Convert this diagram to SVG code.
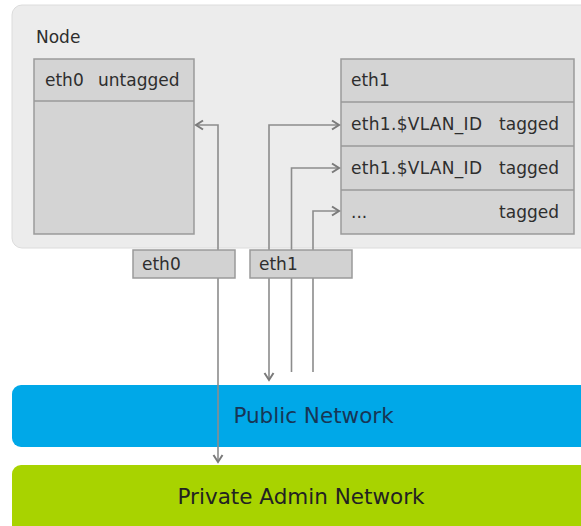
<svg xmlns="http://www.w3.org/2000/svg" width="581" height="526" viewBox="0 0 581 526">
  <style>
    text { font-family: "DejaVu Sans", "Liberation Sans", sans-serif; fill: #2e2e2e; }
    .lbl { font-size: 17px; }
    .box { fill: #d4d4d4; stroke: #9a9a9a; stroke-width: 1.5; }
    .div { stroke: #9a9a9a; stroke-width: 1.5; }
    .port { fill: #d2d2d2; stroke: #9a9a9a; stroke-width: 1.5; }
    .conn { fill: none; stroke: #8c8c8c; stroke-width: 1.6; }
    .net { font-size: 21.5px; }
  </style>
  <defs>
    <marker id="arr" markerUnits="userSpaceOnUse" markerWidth="12" markerHeight="12" refX="9" refY="6" orient="auto-start-reverse" viewBox="0 0 12 12">
      <path d="M2,1.5 L9,6 L2,10.5" fill="none" stroke="#7a7a7a" stroke-width="2"/>
    </marker>
  </defs>
  <rect x="0" y="0" width="581" height="526" fill="#ffffff"/>

  <g id="node">
    <rect x="12" y="5" width="600" height="243" rx="10" fill="#ececec" stroke="#dcdcdc" stroke-width="1"/>
    <text class="lbl" x="36" y="43">Node</text>
  </g>

  <g id="eth0-if">
    <rect class="box" x="34" y="59" width="160" height="175"/>
    <line class="div" x1="34" y1="101" x2="194" y2="101"/>
    <text class="lbl" x="45" y="86">eth0</text>
    <text class="lbl" x="98" y="86">untagged</text>
  </g>

  <g id="eth1-if">
    <rect class="box" x="341" y="59" width="233" height="175"/>
    <line class="div" x1="341" y1="102" x2="574" y2="102"/>
    <line class="div" x1="341" y1="146" x2="574" y2="146"/>
    <line class="div" x1="341" y1="190" x2="574" y2="190"/>
    <text class="lbl" x="351" y="86">eth1</text>
    <text class="lbl" x="351" y="130" textLength="131">eth1.$VLAN_ID</text>
    <text class="lbl" x="559" y="130" text-anchor="end">tagged</text>
    <text class="lbl" x="351" y="174" textLength="131">eth1.$VLAN_ID</text>
    <text class="lbl" x="559" y="174" text-anchor="end">tagged</text>
    <text class="lbl" x="351" y="218">...</text>
    <text class="lbl" x="559" y="218" text-anchor="end">tagged</text>
  </g>

  <g id="public-network">
    <rect x="12" y="385" width="600" height="62" rx="9" fill="#00a8e8"/>
    <text class="net" x="313.5" y="423" text-anchor="middle" style="fill:#173656">Public Network</text>
  </g>

  <g id="private-network">
    <rect x="12" y="465" width="600" height="80" rx="9" fill="#a8d300"/>
    <text class="net" x="301" y="504" text-anchor="middle" style="fill:#222222">Private Admin Network</text>
  </g>

  <g id="connectors">
    <path class="conn" d="M218,462 L218,125 L196,125" marker-start="url(#arr)" marker-end="url(#arr)"/>
    <path class="conn" d="M269,380 L269,125 L339,125" marker-start="url(#arr)" marker-end="url(#arr)"/>
    <path class="conn" d="M291.5,372 L291.5,168 L339,168" marker-end="url(#arr)"/>
    <path class="conn" d="M313,372 L313,211 L339,211" marker-end="url(#arr)"/>
  </g>

  <g id="port-eth0">
    <rect class="port" x="133" y="250" width="102" height="28"/>
    <text class="lbl" x="142" y="270">eth0</text>
  </g>

  <g id="port-eth1">
    <rect class="port" x="250" y="250" width="102" height="28"/>
    <text class="lbl" x="259" y="270">eth1</text>
  </g>
</svg>
